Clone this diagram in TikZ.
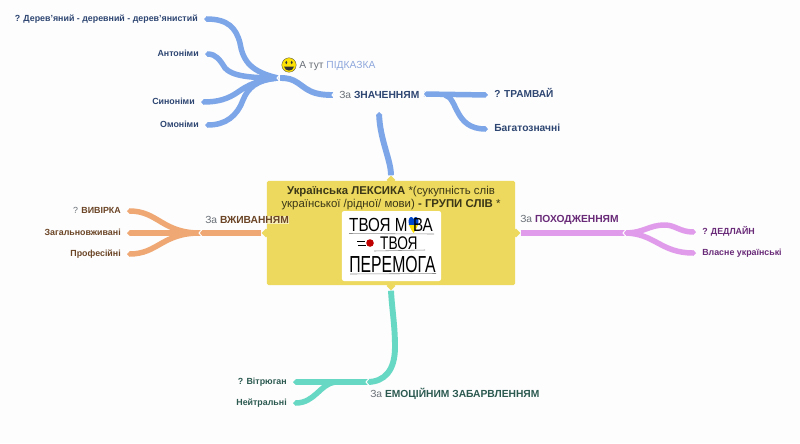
\documentclass[tikz,border=0pt]{standalone}
\usepackage{fontspec}
\setmainfont{Liberation Sans}
\usetikzlibrary{arrows.meta,shapes.geometric}
\definecolor{paper}{HTML}{FDFDFD}
\definecolor{boxyellow}{HTML}{ECD95E}
\definecolor{blueline}{HTML}{7DA6E8}
\definecolor{orangeline}{HTML}{EFA874}
\definecolor{purpleline}{HTML}{E09CEA}
\definecolor{tealline}{HTML}{67D8C3}
\definecolor{bluetext}{HTML}{2E4672}
\definecolor{browntext}{HTML}{6B4526}
\definecolor{purpletext}{HTML}{692A78}
\definecolor{greentext}{HTML}{2C5A50}
\definecolor{greytext}{HTML}{6A7078}
\definecolor{hintblue}{HTML}{8FA8DC}
\newcommand{\Za}{\textcolor{greytext}{За}}
\tikzset{
    rootbox/.style = {draw=none, fill=boxyellow, rectangle, rounded corners=1pt,
        minimum width=6.2cm, minimum height=2.6cm},
    picbox/.style = {fill=white, rectangle, rounded corners=1.5pt,
        minimum width=2.475cm, minimum height=1.75cm},
    toptext/.style = {align=center, text=black!75!boxyellow, font=\fontsize{8.1}{9.3}\selectfont, inner sep=0pt},
    topic/.style = {font=\fontsize{7.3}{9}\selectfont, inner sep=0pt, anchor=west},
    leaf/.style = {font=\fontsize{6.3}{8}\bfseries\selectfont, inner ysep=0pt, inner xsep=1.5mm,
        text height=5pt, text depth=1.3pt},
    leafl/.style = {leaf, anchor=east},
    leafr/.style = {leaf, anchor=west},
    branch/.style = {draw, line width=3.9pt, -{Triangle[length=2pt,width=3.9pt]}},
    trunk/.style = {draw, line width=4.2pt},
    stub/.style = {diamond, fill=boxyellow, minimum width=2.2mm, minimum height=2.2mm, inner sep=0pt},
    hand/.style = {inner sep=0pt, text=black},
    scratch/.style = {draw=black!45, line width=.4pt},
    notch/.pic = {\draw[white, line width=.7pt] (2,-3.5) -- (-1,0) -- (2,3.5);}
}
\begin{document}
\begin{tikzpicture}[x=0.025cm,y=-0.025cm]
        \fill [paper] (0,0) rectangle (800,443);
        \useasboundingbox (0,0) rectangle (800,443);
        % top left
        \coordinate (hintroot) at (278,78);
        \coordinate (mean) at (333,95);
        \coordinate (meanout) at (424,94);
        \coordinate (meanup) at (379,112);
        \node [leafl, text=bluetext] (wood) at (204,19) {? Дерев'яний - деревний - дерев'янистий};
        \node [leafl, text=bluetext] (anto) at (205,54) {Антоніми};
        \node [leafl, text=bluetext] (syno) at (201,102) {Синоніми};
        \node [leafl, text=bluetext] (homo) at (205,125) {Омоніми};
        \node [leafr, text=bluetext] (tram) at (488,95) {\fontsize{7.2}{9}\selectfont ? ТРАМВАЙ};
        \node [leafr, text=bluetext] (poly) at (488,129) {\fontsize{7.3}{9}\selectfont Багатозначні};
        \draw [blueline, branch] (hintroot) .. controls (252,72) and (243,62) .. (240,43) .. controls (236,28) and (228,19) .. (wood.east);
        \draw [blueline, branch] (hintroot) .. controls (250,78) and (232,76) .. (225,68) .. controls (220,60) and (216,54) .. (anto.east);
        \draw [blueline, branch] (hintroot) .. controls (258,80) and (248,85) .. (238,92) .. controls (228,99) and (218,102) .. (syno.east);
        \draw [blueline, branch] (hintroot) .. controls (256,80) and (248,88) .. (243,100) .. controls (237,116) and (226,125) .. (homo.east);
        \draw [blueline, trunk] (mean) .. controls (312,95) and (308,90) .. (298,83) .. controls (292,79) and (288,78) .. (280,78);
        \draw [blueline, branch] (meanout) -- (tram.west);
        \draw [blueline, branch] (445,95) .. controls (458,98) and (454,129) .. (poly.west);
        % centre
        \node [rootbox] (root) at (391,233) {};
        \node [stub] (stubup) at (391,180) {};
        \node [stub] (stubdown) at (391,286) {};
        \node [stub] (stubleft) at (266,233) {};
        \node [stub] (stubright) at (516,233) {};
        \draw [blueline, trunk, -{Triangle[length=2pt,width=4.2pt]}] (stubup.north) .. controls (391,160) and (380,140) .. (meanup);
        \node [toptext] (title) at (391,198.5) {\textbf{Українська ЛЕКСИКА} *(сукупність слів\\української /рідної/ мови) \textbf{- ГРУПИ СЛІВ} *};
        \node [picbox] (pic) at (391.5,246) {};
        % slogan
        \node [hand, font=\fontsize{13.5}{14}\selectfont, xscale=.8, anchor=west] (line1a) at (349,224.5) {ТВОЯ М};
        \fill [blue!65!cyan!80!black] (408.5,221) .. controls (409,216) and (412.5,216) .. (413.5,219) .. controls (414.5,216) and (418,216) .. (418.5,221) -- (418,225) -- (409,225) -- cycle;
        \fill [yellow!85!orange] (409,225) -- (418,225) .. controls (417,228) and (415,231) .. (413.5,233) .. controls (412,231) and (410,228) .. (409,225) -- cycle;
        \node [hand, font=\fontsize{13.5}{14}\selectfont, xscale=.8, anchor=east] (line1b) at (433,224.5) {ВА};
        \draw [scratch] (349,233.5) -- (434,234);
        \node [hand, font=\fontsize{13}{14}\selectfont, xscale=.75, anchor=west] (line2) at (380,243.5) {ТВОЯ};
        \fill [red!75!black] (370,243) circle (3.8);
        \draw [black, line width=.6pt] (357,241) -- (365,241) (358,245) -- (366,245);
        \draw [scratch] (374,251) -- (425,250);
        \node [hand, font=\fontsize{16.5}{17}\selectfont, xscale=.68] (line3) at (392.5,264.5) {ПЕРЕМОГА};
        \draw [scratch] (350,274) -- (436,273.5);
        % left
        \coordinate (useout) at (200,233);
        \node [leafl, text=browntext] (audit) at (127,211) {\textcolor{greytext}{\mdseries ?} ВИВІРКА};
        \node [leafl, text=browntext] (common) at (127,233) {Загальновживані};
        \node [leafl, text=browntext] (prof) at (127,254) {Професійні};
        \draw [orangeline, branch] (useout) .. controls (162,233) and (158,211) .. (audit.east);
        \draw [orangeline, branch] (useout) -- (common.east);
        \draw [orangeline, branch] (useout) .. controls (162,233) and (158,254) .. (prof.east);
        \draw [orangeline, trunk] (stubleft.west) -- (useout);
        % right
        \coordinate (originout) at (624,233);
        \node [leafr, text=purpletext] (dead) at (696,232) {? ДЕДЛАЙН};
        \node [leafr, text=purpletext] (native) at (696,253) {Власне українські};
        \draw [purpleline, trunk] (stubright.east) -- (originout);
        \draw [purpleline, branch] (originout) .. controls (645,233) and (648,225) .. (665,225) .. controls (675,225) and (680,232) .. (dead.west);
        \draw [purpleline, branch] (originout) .. controls (655,233) and (660,253) .. (native.west);
        % bottom
        \coordinate (emoout) at (367,382);
        \node [leafl, text=greentext] (gale) at (293,382) {? Вітрюган};
        \node [leafl, text=greentext] (neutral) at (293,403) {Нейтральні};
        \draw [tealline, trunk] (stubdown.south) .. controls (392,310) and (395,325) .. (395,347) .. controls (395,370) and (385,382) .. (emoout);
        \draw [tealline, branch] (emoout) -- (gale.east);
        \draw [tealline, branch] (335,382) .. controls (320,384) and (315,403) .. (neutral.east);
        % notches
        \pic at (hintroot) {notch};
        \pic at (mean) {notch};
        \pic at (meanout) {notch};
        \pic at (useout) {notch};
        \pic at (originout) {notch};
        \pic at (emoout) {notch};
        % topic labels
        \node [topic] (hint) at (299,66) {\textcolor{greytext}{А тут} \textcolor{hintblue}{ПІДКАЗКА}};
        \node [circle, fill=yellow!85!orange, draw=black!70!yellow, line width=.3pt, minimum size=3.6mm, inner sep=0pt] (smile) at (289,65) {};
        \fill [black!80] (286.3,62.5) ellipse (1 and 1.8) (291.7,62.5) ellipse (1 and 1.8);
        \fill [black!80] (284,66.5) .. controls (285,72) and (293,72) .. (294,66.5) -- cycle;
        \node [topic] (meanlabel) at (339,95) {\Za{} \textcolor{bluetext}{\bfseries ЗНАЧЕННЯМ}};
        \node [topic, fill=white, fill opacity=.55, text opacity=1] (uselabel) at (205,220) {\Za{} \textcolor{browntext}{\bfseries ВЖИВАННЯМ}};
        \node [topic] (originlabel) at (520,220) {\Za{} \textcolor{purpletext}{\bfseries ПОХОДЖЕННЯМ}};
        \node [topic] (emolabel) at (370,394) {\Za{} \textcolor{greentext}{\bfseries ЕМОЦІЙНИМ ЗАБАРВЛЕННЯМ}};
\end{tikzpicture}
\end{document}
